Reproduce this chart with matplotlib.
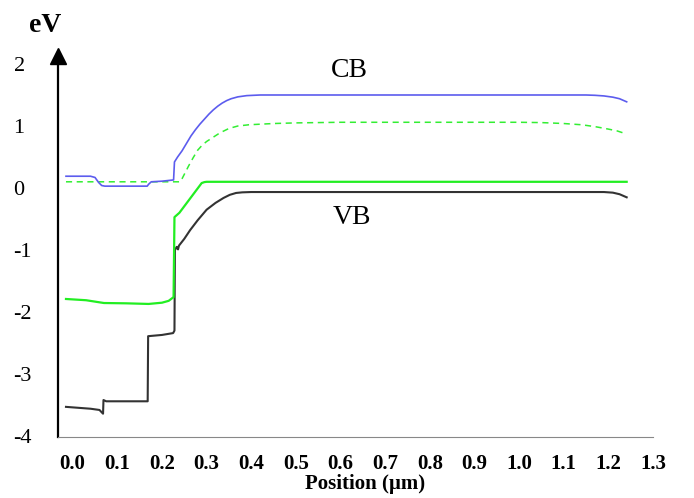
import matplotlib
matplotlib.use("Agg")
import matplotlib.pyplot as plt
import numpy as np

plt.rcParams['font.family'] = ['Liberation Serif', 'DejaVu Serif']

# conduction band (blue)
cb_x = [-0.015, 0.04, 0.05, 0.058, 0.065, 0.072, 0.167, 0.17, 0.176, 0.2, 0.226,
        0.228, 0.235, 0.245, 0.255, 0.265, 0.275, 0.285, 0.295, 0.305, 0.315,
        0.325, 0.335, 0.345, 0.355, 0.37, 0.39, 0.42, 1.15, 1.17, 1.19, 1.21,
        1.225, 1.241]
cb_y = [0.19, 0.19, 0.17, 0.09, 0.04, 0.03, 0.03, 0.06, 0.1, 0.11, 0.13,
        0.42, 0.5, 0.6, 0.72, 0.84, 0.94, 1.03, 1.11, 1.19, 1.26,
        1.32, 1.37, 1.41, 1.44, 1.47, 1.49, 1.5, 1.5, 1.495, 1.485, 1.465,
        1.44, 1.39]

# quasi-Fermi level (dashed green)
fn_x = [-0.015, 0.241, 0.245, 0.25, 0.26, 0.27, 0.28, 0.29, 0.3, 0.315, 0.33,
        0.35, 0.37, 0.395, 0.45, 0.5, 0.6, 1.0, 1.05, 1.1, 1.14, 1.17, 1.2,
        1.22, 1.241]
fn_y = [0.1, 0.1, 0.15, 0.22, 0.36, 0.49, 0.61, 0.69, 0.75, 0.82, 0.89,
        0.96, 1.0, 1.02, 1.04, 1.05, 1.06, 1.06, 1.055, 1.04, 1.02, 0.99, 0.95,
        0.92, 0.87]

# solid green
fp_x = [-0.015, 0.03, 0.07, 0.12, 0.17, 0.2, 0.215, 0.226, 0.228, 0.239, 0.289,
        0.295, 0.3, 1.241]
fp_y = [-1.79, -1.81, -1.855, -1.86, -1.87, -1.85, -1.82, -1.76, -0.47, -0.4,
        0.08, 0.095, 0.1, 0.1]

# valence band (black)
vb_x = [-0.015, 0.04, 0.06, 0.068, 0.069, 0.075, 0.168, 0.169, 0.2, 0.225, 0.228,
        0.229, 0.233, 0.236, 0.238, 0.25, 0.263, 0.28, 0.3, 0.32, 0.338, 0.352,
        0.366, 0.38, 0.4, 1.19, 1.21, 1.225, 1.241]
vb_y = [-3.53, -3.56, -3.58, -3.64, -3.42, -3.44, -3.44, -2.39, -2.37, -2.34,
        -2.3, -1.0, -0.95, -0.99, -0.93, -0.82, -0.68, -0.52, -0.35, -0.24,
        -0.16, -0.11, -0.08, -0.07, -0.065, -0.065, -0.075, -0.1, -0.15]

x_ticks = np.round(np.arange(0, 1.31, 0.1), 1)
y_ticks = [-4, -3, -2, -1, 0, 1, 2]

fig = plt.figure(figsize=(6.94, 4.98), dpi=100)
ax = fig.add_axes([58/694, (498-437)/498, (653-58)/694, (437-56)/498])

ax.plot(fn_x, fn_y, color='#33ee33', lw=1.1, dashes=(4, 3))
ax.plot(cb_x, cb_y, color='#5c5cee', lw=1.2)
ax.plot(vb_x, vb_y, color='#333333', lw=1.5)
ax.plot(fp_x, fp_y, color='#22ee22', lw=1.6)

ax.set_xlim(-0.0329, 1.2719)
ax.set_ylim(-4.016, 2.129)

ax.spines['top'].set_visible(False)
ax.spines['right'].set_visible(False)
ax.spines['left'].set_linewidth(1.6)
ax.spines['left'].set_color('black')
ax.spines['bottom'].set_linewidth(0.8)
ax.spines['bottom'].set_color('#888888')
ax.plot([0], [1], marker='^', ms=11, color='black', transform=ax.transAxes,
        clip_on=False)

ax.set_xticks(x_ticks)
ax.set_xticklabels([f"{v:.1f}" for v in x_ticks], fontsize=15, fontweight='bold')
ax.set_yticks(y_ticks)
ax.set_yticklabels([str(v) for v in y_ticks], fontsize=16)
ax.tick_params(axis='x', length=0, pad=12)
ax.tick_params(axis='y', length=0, pad=32)
for lab in ax.get_yticklabels():
    lab.set_horizontalalignment('left')

ax.text(0.62, 1.89, "CB", fontsize=20, ha='center', va='center')
ax.text(0.625, -0.47, "VB", fontsize=20, ha='center', va='center')
fig.text(45/694, 1 - 26/498, "eV", fontsize=20, fontweight='bold',
         ha='center', va='center')
fig.text(365/694, 1 - 484/498, "Position (µm)", fontsize=15, fontweight='bold',
         ha='center', va='center')

fig.savefig("out.png", dpi=100)
